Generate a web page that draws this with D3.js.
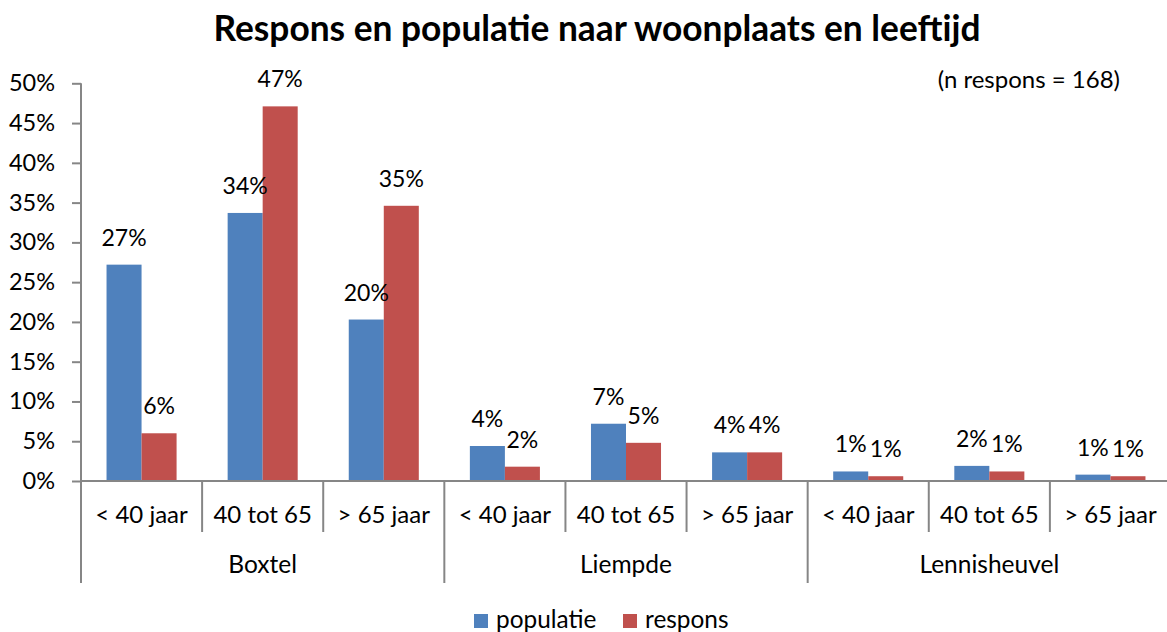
<!DOCTYPE html>
<html>
<head>
<meta charset="utf-8">
<script src="https://cdn.jsdelivr.net/npm/d3@7"></script>
<style>
  body { margin: 0; background: #fff; }
  svg { display: block; font-family: Lato, "Open Sans", sans-serif; }
</style>
</head>
<body>
<svg></svg>
<script>
// data
var groups = ['Boxtel', 'Liempde', 'Lennisheuvel'];
var ages = ['< 40 jaar', '40 tot 65', '> 65 jaar'];
var seriesNames = ['populatie', 'respons'];
var seriesColors = ['#4F81BD', '#C0504D'];
var populatie = [0.272, 0.337, 0.203, 0.044, 0.072, 0.036, 0.012, 0.019, 0.008];
var respons = [0.060, 0.471, 0.346, 0.018, 0.048, 0.036, 0.006, 0.012, 0.006];
var yTicks = [0, 0.05, 0.10, 0.15, 0.20, 0.25, 0.30, 0.35, 0.40, 0.45, 0.50];
var title = 'Respons en populatie naar woonplaats en leeftijd';
var note = '(n respons = 168)';

var Chart = (function() {
  var svgDS = { width: 1167, height: 632 };
  var plot = { left: 81, right: 1171, top: 83.3, bottom: 481 };
  var AXIS = '#868686';
  var $svg;

  // one entry per category: group + age
  var categories = function categories() {
    var out = [];
    groups.forEach(function(g) {
      ages.forEach(function(a) { out.push({ group: g, age: a, key: g + '|' + a }); });
    });
    return out;
  };

  var draw = function draw() {
    $svg = d3.select('svg')
      .attr('width', svgDS.width)
      .attr('height', svgDS.height);

    var cats = categories();
    var x0 = d3.scaleBand().domain(cats.map(function(d) { return d.key; }))
      .range([plot.left, plot.right]).paddingInner(0).paddingOuter(0);
    var x1 = d3.scaleBand().domain(seriesNames)
      .range([0, x0.bandwidth()]).paddingInner(0).paddingOuter(0.729);
    var y = d3.scaleLinear().domain([0, 0.5]).range([plot.bottom, plot.top]);
    var color = d3.scaleOrdinal().domain(seriesNames).range(seriesColors);

    // title + note
    $svg.append('text')
      .attr('x', 597).attr('y', 41)
      .attr('text-anchor', 'middle')
      .attr('font-size', 35.3).attr('font-weight', 'bold')
      .text(title);
    $svg.append('text')
      .attr('x', 1120).attr('y', 88)
      .attr('text-anchor', 'end')
      .attr('font-size', 24)
      .text(note);

    // bars
    var values = { populatie: populatie, respons: respons };
    var barData = [];
    cats.forEach(function(c, i) {
      seriesNames.forEach(function(s) {
        barData.push({ key: c.key, series: s, value: values[s][i] });
      });
    });

    $svg.append('g').selectAll('rect').data(barData).enter().append('rect')
      .attr('x', function(d) { return x0(d.key) + x1(d.series); })
      .attr('y', function(d) { return y(d.value); })
      .attr('width', x1.bandwidth())
      .attr('height', function(d) { return y(0) - y(d.value); })
      .attr('fill', function(d) { return color(d.series); });

    // data labels
    $svg.append('g').selectAll('text').data(barData).enter().append('text')
      .attr('x', function(d) { return x0(d.key) + x1(d.series) + x1.bandwidth() / 2; })
      .attr('y', function(d) { return y(d.value) - 19; })
      .attr('text-anchor', 'middle')
      .attr('font-size', 23)
      .text(function(d) { return d3.format('.0%')(d.value); });

    // y axis
    var yAxis = d3.axisLeft(y).tickValues(yTicks)
      .tickFormat(d3.format('.0%')).tickSize(9).tickPadding(17);
    var $ya = $svg.append('g')
      .attr('transform', 'translate(' + plot.left + ',0)')
      .call(yAxis);
    $ya.select('.domain').attr('stroke', AXIS).attr('stroke-width', 2)
      .attr('d', 'M0,' + plot.top + 'V' + plot.bottom);
    $ya.selectAll('.tick line').attr('stroke', AXIS).attr('stroke-width', 2);
    $ya.selectAll('.tick text').attr('font-size', 23.5).attr('fill', '#000')
      .attr('font-family', 'Lato, sans-serif');

    // x axis baseline
    $svg.append('line')
      .attr('x1', plot.left).attr('x2', plot.right)
      .attr('y1', y(0)).attr('y2', y(0))
      .attr('stroke', AXIS).attr('stroke-width', 2);

    // category separators (short) and group separators (long)
    var bounds = cats.map(function(c) { return x0(c.key); }).concat([plot.right]);
    $svg.append('g').selectAll('line').data(bounds).enter().append('line')
      .attr('x1', function(d) { return d; }).attr('x2', function(d) { return d; })
      .attr('y1', y(0))
      .attr('y2', function(d, i) { return i % ages.length === 0 ? 583 : 532; })
      .attr('stroke', AXIS).attr('stroke-width', 2);

    // age labels
    $svg.append('g').selectAll('text').data(cats).enter().append('text')
      .attr('x', function(d) { return x0(d.key) + x0.bandwidth() / 2; })
      .attr('y', 523)
      .attr('text-anchor', 'middle')
      .attr('font-size', 24)
      .text(function(d) { return d.age; });

    // group labels
    $svg.append('g').selectAll('text').data(groups).enter().append('text')
      .attr('x', function(g) {
        return x0(g + '|' + ages[0]) + x0.bandwidth() * ages.length / 2;
      })
      .attr('y', 573)
      .attr('text-anchor', 'middle')
      .attr('font-size', 24.5)
      .text(function(g) { return g; });

    // legend
    var legendX = [474, 623];
    var $lg = $svg.append('g').selectAll('g').data(seriesNames).enter().append('g')
      .attr('transform', function(d, i) { return 'translate(' + legendX[i] + ',614)'; });
    $lg.append('rect').attr('width', 14).attr('height', 14)
      .attr('fill', function(d) { return color(d); });
    $lg.append('text').attr('x', 22).attr('y', 14)
      .attr('font-size', 24.4)
      .text(function(d) { return d; });
  };

  return { draw: draw };
})();

Chart.draw();
</script>
</body>
</html>
